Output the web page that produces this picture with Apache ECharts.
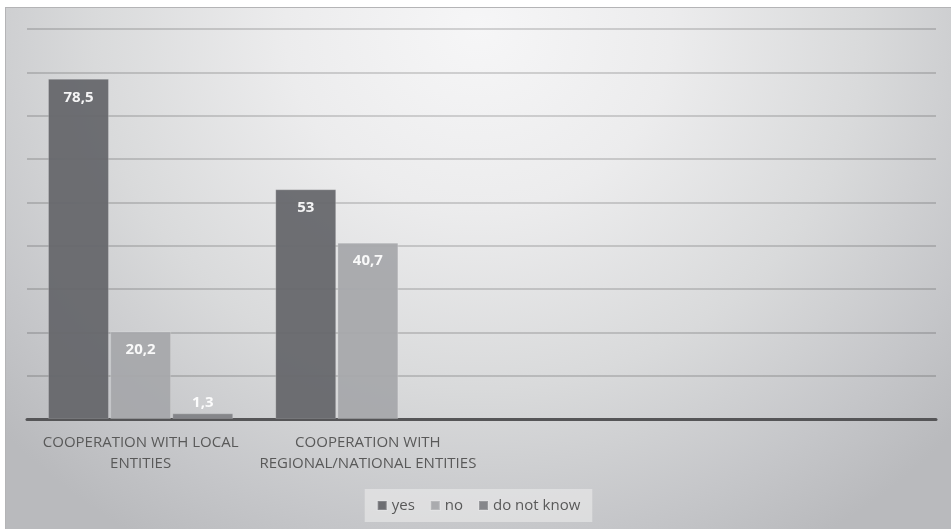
<!DOCTYPE html>
<html>
<head>
<meta charset="utf-8">
<script src="https://cdn.jsdelivr.net/npm/echarts@6/dist/echarts.min.js"></script>
<style>
  html, body { margin: 0; padding: 0; background: #ffffff; }
  #frame {
    position: absolute; left: 5px; top: 7px; width: 946px; height: 522px;
    box-sizing: border-box;
    border-top: 1px solid #b4b4b6; border-left: 1px solid #b4b4b6;
    background: radial-gradient(ellipse 68% 115% at 50% 4%, #f6f6f7 0%, #ececed 30%, #d9dadb 60%, #c5c6c9 85%, #b9babd 100%);
  }
  #chart { width: 945px; height: 521px; }
</style>
</head>
<body>
<div id="frame"><div id="chart"></div></div>
<script>
const categories = ['COOPERATION WITH LOCAL\nENTITIES', 'COOPERATION WITH\nREGIONAL/NATIONAL ENTITIES', '', ''];
const seriesNames = ['yes', 'no', 'do not know'];
const yesValues = [78.5, 53, null, null];
const noValues = [20.2, 40.7, null, null];
const dnkValues = [1.3, null, null, null];
const colors = ['#646569', '#a6a7aa', '#7f8084'];

const chart = echarts.init(document.getElementById('chart'), null, { renderer: 'canvas' });

const fmt = p => String(p.value).replace('.', ',');

function mkSeries(name, values, color) {
  return {
    name: name,
    type: 'bar',
    barGap: '2%',
    barCategoryGap: '18.5%',
    itemStyle: { color: color, opacity: 0.93, borderColor: 'rgba(255,255,255,0.18)', borderWidth: 1 },
    label: {
      show: true, position: 'insideTop', distance: 11,
      color: '#ffffff', fontWeight: 'bold', fontSize: 15,
      fontFamily: 'Open Sans', formatter: fmt
    },
    data: values.map(v => (v !== null && v < 5) ? { value: v, label: { position: 'top', distance: 3 } } : v)
  };
}

chart.setOption({
  backgroundColor: 'transparent',
  animation: false,
  color: colors,
  grid: { left: 21, right: 15, top: 21, bottom: 110, containLabel: false },
  legend: {
    show: true, bottom: 7, left: 'center',
    icon: 'rect', itemWidth: 9, itemHeight: 9, itemGap: 15,
    padding: [9, 12],
    backgroundColor: 'rgba(238,238,239,0.55)',
    textStyle: { color: '#595959', fontSize: 15, fontFamily: 'Open Sans' },
    data: seriesNames
  },
  xAxis: {
    type: 'category',
    data: categories,
    axisLine: { lineStyle: { color: '#555557', width: 3 } },
    axisTick: { show: false },
    axisLabel: {
      color: '#595959', fontSize: 15, fontFamily: 'Open Sans',
      lineHeight: 21, margin: 13, interval: 0
    }
  },
  yAxis: {
    type: 'value', min: 0, max: 90, interval: 10,
    axisLine: { show: false }, axisTick: { show: false },
    axisLabel: { show: false },
    splitLine: { lineStyle: { color: 'rgba(0,0,0,0.15)', width: 2 } }
  },
  series: [
    mkSeries(seriesNames[0], yesValues, colors[0]),
    mkSeries(seriesNames[1], noValues, colors[1]),
    mkSeries(seriesNames[2], dnkValues, colors[2])
  ]
});
</script>
</body>
</html>
